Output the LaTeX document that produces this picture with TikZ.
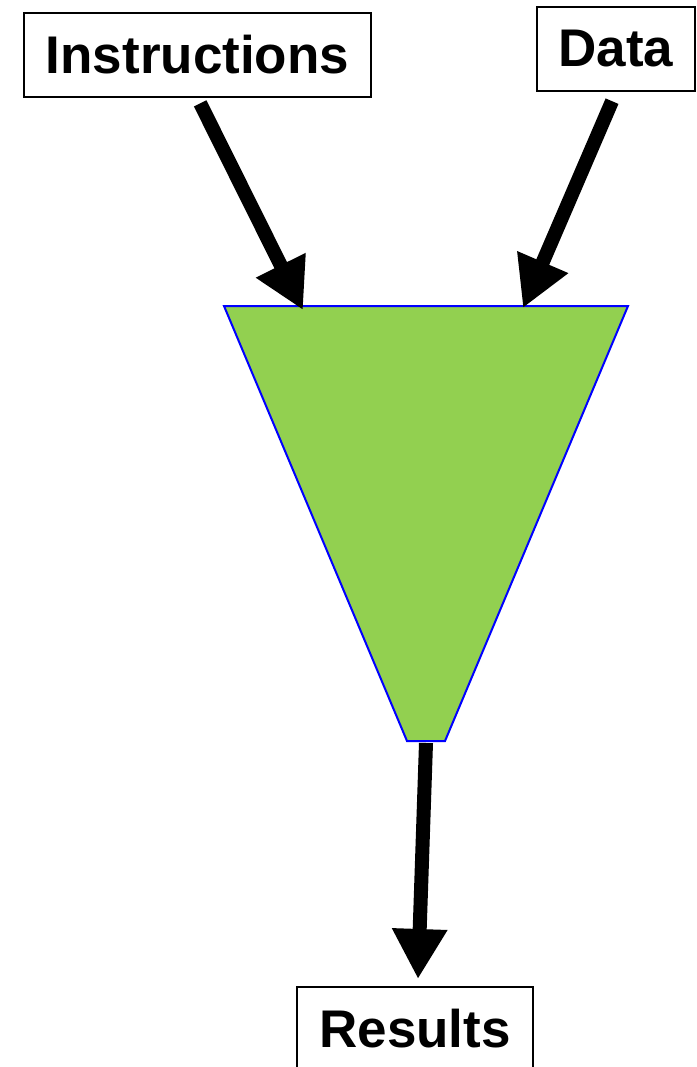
\documentclass[tikz,border=0pt]{standalone}
\usepackage{fontspec}
\setmainfont{Liberation Sans}
\usetikzlibrary{positioning,arrows.meta}
\definecolor{funnelgreen}{HTML}{92D050}
\definecolor{funnelblue}{HTML}{0000FF}

\begin{document}
\begin{tikzpicture}[
x=1pt, y=-1pt,
font=\fontsize{53}{60}\selectfont\bfseries,
box/.style={draw, line width=2pt, inner xsep=22pt, minimum height=84pt},
arrow/.style={-{Triangle[length=50pt,width=52pt]}, line width=14pt},
funnel/.style={draw=funnelblue, line width=2pt, fill=funnelgreen}
]
\useasboundingbox (0,0) rectangle (696,1067);

\node[box] (ins) at (197.5,55) {Instructions};
\node[box] (data) at (616,49) {Data};
\node[box, anchor=north] (res) at (415,986) {Results};

\coordinate (tl) at (224,306);
\coordinate (tr) at (628,306);
\coordinate (br) at (445,741);
\coordinate (bl) at (407,741);
\draw[funnel] (tl) -- (tr) -- (br) -- (bl) -- cycle;

\coordinate (in1) at (303,310);
\coordinate (in2) at (523,308);
\coordinate (out) at (426,743);
\coordinate (hit) at (418,979);

\draw[arrow, shorten <=6pt] (ins.south) -- (in1);
\draw[arrow, shorten <=10pt] (data.south) -- (in2);
\draw[arrow] (out) -- (hit);
\end{tikzpicture}
\end{document}
